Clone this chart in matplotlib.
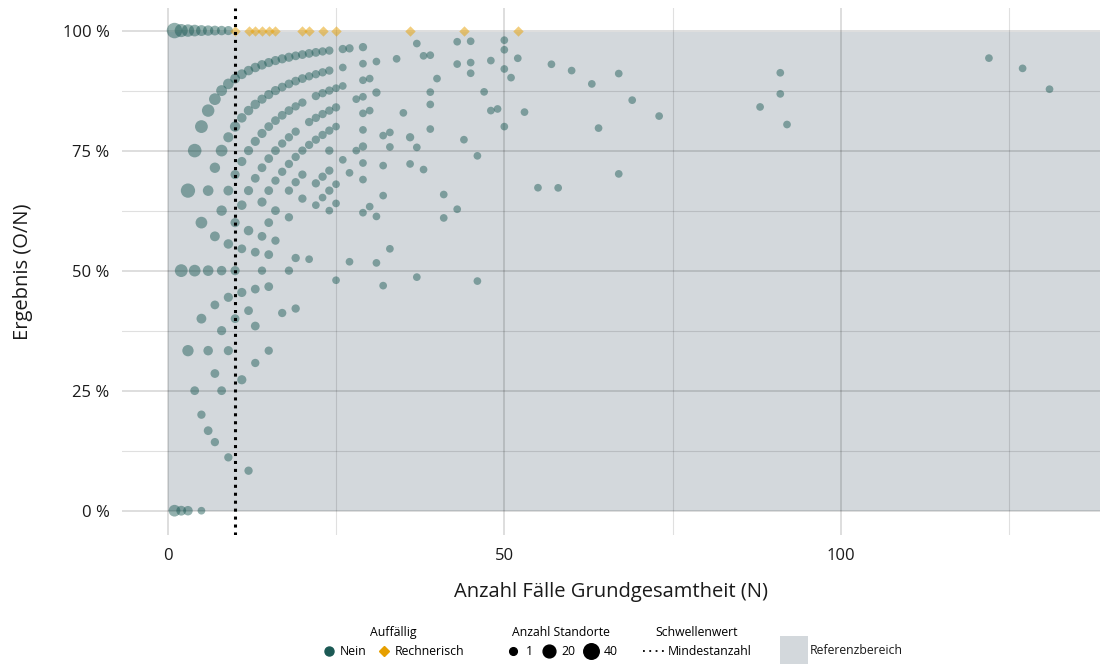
import matplotlib.pyplot as plt
from matplotlib.lines import Line2D
from matplotlib.patches import Rectangle
import numpy as np

plt.rcParams['font.family'] = ['Open Sans', 'DejaVu Sans']

# --- DATA ---
# Standorte ohne Auffaelligkeit: Grundgesamtheit N, beobachtete Faelle O, Anzahl Standorte
faelle_n = [
    1, 1,
    2, 2, 2,
    3, 3, 3, 3,
    4, 4, 4, 4,
    5, 5, 5, 5, 5, 5,
    6, 6, 6, 6, 6, 6,
    7, 7, 7, 7, 7, 7, 7,
    8, 8, 8, 8, 8, 8, 8,
    9, 9, 9, 9, 9, 9, 9, 9,
    10, 10, 10, 10, 10, 10,
    11, 11, 11, 11, 11, 11, 11,
    12, 12, 12, 12, 12, 12, 12,
    13, 13, 13, 13, 13, 13, 13, 13,
    14, 14, 14, 14, 14, 14, 14,
    15, 15, 15, 15, 15, 15, 15, 15, 15,
    16, 16, 16, 16, 16, 16, 16,
    17, 17, 17, 17, 17, 17,
    18, 18, 18, 18, 18, 18, 18, 18,
    19, 19, 19, 19, 19, 19, 19, 19,
    20, 20, 20, 20, 20, 20,
    21, 21, 21, 21, 21,
    22, 22, 22, 22, 22, 22, 22,
    23, 23, 23, 23, 23, 23, 23,
    24, 24, 24, 24, 24, 24, 24, 24, 24,
    25, 25, 25, 25, 25, 25,
    26, 26, 26, 26,
    27, 27, 27,
    28, 28,
    29, 29, 29, 29, 29, 29, 29, 29, 29, 29,
    30, 30, 30,
    31, 31, 31, 31,
    32, 32, 32, 32,
    33, 33, 33,
    34,
    35,
    36, 36,
    37, 37, 37,
    38, 38,
    39, 39, 39, 39,
    40,
    41, 41,
    43, 43, 43,
    44,
    45, 45, 45,
    46, 46,
    47,
    48, 48,
    49,
    50, 50, 50, 50,
    51, 52, 53, 55, 57, 58, 60, 63, 64,
    67, 67, 69, 73, 88, 91, 91, 92, 122, 127, 131,
]

ergebnis_o = [
    1, 0,
    2, 1, 0,
    3, 2, 1, 0,
    4, 3, 2, 1,
    5, 4, 3, 2, 1, 0,
    6, 5, 4, 3, 2, 1,
    7, 6, 5, 4, 3, 2, 1,
    8, 7, 6, 5, 4, 3, 2,
    9, 8, 7, 6, 5, 4, 3, 1,
    9, 8, 7, 6, 5, 4,
    10, 9, 8, 7, 6, 5, 3,
    11, 10, 9, 8, 7, 5, 1,
    12, 11, 10, 9, 7, 6, 5, 4,
    13, 12, 11, 10, 9, 8, 7,
    14, 13, 12, 11, 10, 9, 8, 7, 5,
    15, 14, 13, 12, 11, 10, 9,
    16, 15, 14, 13, 12, 7,
    17, 16, 15, 14, 13, 12, 11, 9,
    18, 17, 16, 15, 14, 13, 10, 8,
    19, 18, 17, 15, 14, 13,
    20, 19, 17, 16, 11,
    21, 20, 19, 18, 17, 15, 14,
    22, 21, 20, 19, 18, 16, 15,
    23, 22, 21, 20, 19, 18, 17, 16, 15,
    22, 21, 20, 17, 16, 12,
    25, 24, 23, 19,
    26, 19, 14,
    24, 21,
    28, 27, 26, 25, 24, 23, 22, 21, 20, 18,
    27, 25, 19,
    29, 27, 19, 16,
    25, 23, 21, 15,
    26, 25, 18,
    32,
    29,
    28, 26,
    36, 28, 18,
    36, 27,
    37, 34, 33, 31,
    36,
    27, 25,
    42, 40, 27,
    34,
    44, 42, 41,
    34, 22,
    41,
    45, 40,
    41,
    49, 48, 46, 40,
    46, 49, 44, 37, 53, 39, 55, 56, 51,
    61, 47, 59, 60, 74, 83, 79, 74, 115, 117, 115,
]

standorte = [
    40, 14,
    22, 20, 6,
    18, 30, 12, 5,
    14, 25, 14, 3,
    10, 20, 14, 6, 2, 1,
    8, 18, 9, 9, 5, 3,
    6, 14, 8, 6, 3, 3, 2,
    5, 10, 14, 8, 5, 4, 3,
    4, 9, 7, 6, 5, 4, 4, 2,
    6, 8, 4, 4, 4, 3,
    6, 5, 4, 5, 3, 4, 4,
    5, 5, 4, 4, 5, 3, 2,
    5, 5, 4, 3, 3, 3, 3, 2,
    5, 4, 4, 3, 4, 3, 2,
    4, 4, 3, 3, 3, 3, 3, 3, 2,
    4, 4, 3, 3, 2, 3, 2,
    4, 3, 3, 2, 2, 2,
    4, 3, 3, 2, 2, 2, 2, 2,
    3, 3, 2, 2, 2, 2, 2, 2,
    3, 3, 2, 2, 2, 2,
    3, 2, 2, 2, 1,
    3, 2, 2, 2, 2, 2, 1,
    2, 2, 2, 2, 2, 2, 1,
    2, 2, 2, 2, 2, 2, 2, 2, 1,
    1, 2, 1, 1, 1, 1,
    2, 1, 1, 1,
    2, 1, 1,
    1, 1,
    2, 1, 1, 1, 1, 1, 2, 1, 1, 1,
    1, 1, 1,
    1, 2, 1, 1,
    1, 1, 1, 1,
    1, 1, 1,
    1,
    1,
    2, 1,
    1, 1, 1,
    1, 1,
    1, 1, 1, 1,
    1,
    1, 1,
    1, 1, 1,
    1,
    1, 1, 1,
    1, 1,
    1,
    1, 1,
    1,
    1, 1, 1, 1,
    1, 1, 1, 1, 1, 1, 1, 1, 1,
    1, 1, 1, 1, 1, 1, 1, 1, 1, 1, 1,
]

# rechnerisch auffaellige Standorte (alle bei 100 %)
auff_n = [10, 12, 13, 14, 15, 16, 20, 21, 23, 25, 36, 44, 52]
auff_o = [10, 12, 13, 14, 15, 16, 20, 21, 23, 25, 36, 44, 52]

mindestanzahl = 10
ref_unten, ref_oben = 0, 99.6

legend_groessen = [1, 20, 40]

assert len(faelle_n) == len(ergebnis_o) == len(standorte)

teal = '#1b5954'
orange = '#e69f00'
grau = '#d3d8dc'
W, H = 1102, 664


def diameter_px(count):
    return 7.7 + 1.47 * (np.sqrt(count) - 1)


def marker_area(count):
    return (diameter_px(np.asarray(count, dtype=float)) * 0.72) ** 2


fig = plt.figure(figsize=(W / 100, H / 100), dpi=100)
ax = fig.add_axes([122 / W, 1 - 535 / H, 978 / W, 527 / H])

x = np.array(faelle_n)
y = 100 * np.array(ergebnis_o) / x
ax.fill_between([0, 300], ref_unten, ref_oben, color=grau, lw=0, zorder=0.2)
ax.scatter(x, y, s=marker_area(standorte), color=teal, alpha=0.47, linewidths=0, zorder=3)

xa = np.array(auff_n)
ya = 100 * np.array(auff_o) / xa
ax.scatter(xa, ya, s=28, marker='D', color=orange, alpha=0.5, linewidths=0, zorder=3)

ax.axvline(mindestanzahl, color='black', ls=(0, (1, 1.6)), lw=2.2, zorder=4)

ax.set_xlim(-6.8, 138.5)
ax.set_ylim(-5.06, 104.7)
ax.set_xticks([0, 50, 100])
ax.set_xticks([25, 75, 125], minor=True)
ax.set_yticks([0, 25, 50, 75, 100])
ax.set_yticklabels(['0 %', '25 %', '50 %', '75 %', '100 %'])
ax.set_yticks([12.5, 37.5, 62.5, 87.5], minor=True)
ax.grid(which='major', color='black', alpha=0.17, lw=1.1)
ax.grid(which='minor', color='black', alpha=0.12, lw=0.8)
ax.tick_params(which='both', length=0, labelsize=12, colors='#1a1a1a')
ax.tick_params(axis='y', pad=9)
ax.tick_params(axis='x', pad=9)
for s in ax.spines.values():
    s.set_visible(False)

ax.set_xlabel('Anzahl Fälle Grundgesamtheit (N)', fontsize=14.5, color='#1a1a1a', labelpad=13)
ax.set_ylabel('Ergebnis (O/N)', fontsize=14.5, color='#1a1a1a', labelpad=21)

# --- LEGENDS ---
lf = 8.8
ly = 1 - 642 / H
h1 = [Line2D([], [], ls='', marker='o', color=teal, markersize=6.5),
      Line2D([], [], ls='', marker='D', color=orange, markersize=5)]
fig.legend(h1, ['Nein', 'Rechnerisch'], title='Auffällig', ncol=2, loc='center',
           bbox_to_anchor=(393 / W, ly), frameon=False, fontsize=lf,
           title_fontsize=lf, handletextpad=0.3, columnspacing=0.8, handlelength=1.2)

h2 = [Line2D([], [], ls='', marker='o', color='black', markersize=diameter_px(c) * 0.72)
      for c in legend_groessen]
fig.legend(h2, [str(c) for c in legend_groessen], title='Anzahl Standorte', ncol=3,
           loc='center', bbox_to_anchor=(561 / W, ly), frameon=False,
           fontsize=lf, title_fontsize=lf, handletextpad=0.3, columnspacing=0.5,
           handlelength=1.5)

h3 = [Line2D([], [], ls=(0, (1, 2.5)), color='black', lw=1.3)]
fig.legend(h3, ['Mindestanzahl'], title='Schwellenwert', loc='center',
           bbox_to_anchor=(697 / W, ly), frameon=False, fontsize=lf,
           title_fontsize=lf, handletextpad=0.2, handlelength=1.8)

# Referenzbereich-Schluessel
fig.patches.append(Rectangle((780 / W, 0), 28 / W, 28 / H, transform=fig.transFigure,
                             facecolor=grau, edgecolor='none'))
fig.text(810 / W, 1 - 650 / H, 'Referenzbereich', fontsize=lf, va='center', ha='left',
         color='#1a1a1a')

plt.savefig('out.png', dpi=100)
